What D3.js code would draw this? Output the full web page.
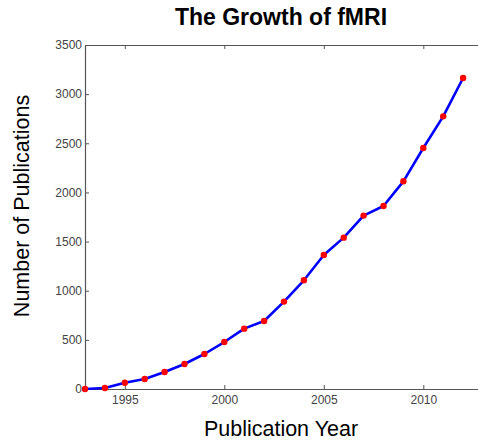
<!DOCTYPE html>
<html>
<head>
<meta charset="utf-8">
<script src="https://cdn.jsdelivr.net/npm/d3@7"></script>
<style>
  body { margin: 0; background: #fff; }
  svg { display: block; font-family: "Liberation Sans", Arial, Helvetica, sans-serif; }
  .axis path, .axis line { stroke: #555; }
  .axis text { fill: #444; font-size: 12px; }
</style>
</head>
<body>
<div id="chart"></div>
<script>
// publication counts per year
let years = [1993, 1994, 1995, 1996, 1997, 1998, 1999, 2000, 2001, 2002,
             2003, 2004, 2005, 2006, 2007, 2008, 2009, 2010, 2011, 2012];
let counts = [0, 10, 64, 102, 173, 254, 356, 478, 614, 692,
              889, 1106, 1363, 1540, 1764, 1862, 2113, 2452, 2774, 3164];
let xTicks = [1995, 2000, 2005, 2010];
let yTicks = [0, 500, 1000, 1500, 2000, 2500, 3000, 3500];

let W = 478, H = 442;
let margin = {top: 45, left: 85, bottom: 53};

let svg = d3.select("#chart").append("svg")
    .attr("width", W)
    .attr("height", H);

let x = d3.scaleLinear()
    .domain([1993, 2013.2])
    .range([margin.left, margin.left + 20.2 * 19.9]);

let y = d3.scaleLinear()
    .domain([0, 3500])
    .range([H - margin.bottom, margin.top]);

// bottom axis, ticks pointing inward
svg.append("g")
    .attr("class", "x-axis axis")
    .attr("transform", `translate(0, ${y(0)})`)
    .call(d3.axisBottom(x).tickValues(xTicks).tickFormat(d3.format("d"))
        .tickSizeInner(-4).tickSizeOuter(0).tickPadding(6));

// top border with ticks
svg.append("g")
    .attr("class", "axis")
    .attr("transform", `translate(0, ${y(3500)})`)
    .call(d3.axisTop(x).tickValues(xTicks).tickFormat("")
        .tickSizeInner(-4).tickSizeOuter(0));

// left axis
svg.append("g")
    .attr("class", "y-axis axis")
    .attr("transform", `translate(${x(1993)}, 0)`)
    .call(d3.axisLeft(y).tickValues(yTicks).tickFormat(d3.format("d"))
        .tickSizeInner(-4).tickSizeOuter(0).tickPadding(3));

svg.selectAll(".axis .domain").attr("stroke-width", 1.2);

let data = years.map((yr, i) => ({year: yr, value: counts[i]}));

let line = d3.line()
    .x(d => x(d.year))
    .y(d => y(d.value));

svg.append("path")
    .datum(data)
    .attr("fill", "none")
    .attr("stroke", "#0000ff")
    .attr("stroke-width", 2.6)
    .attr("stroke-linejoin", "round")
    .attr("d", line);

svg.selectAll(".dot")
    .data(data)
    .enter()
    .append("circle")
    .attr("class", "dot")
    .attr("cx", d => x(d.year))
    .attr("cy", d => y(d.value))
    .attr("r", 3.2)
    .attr("fill", "#ff0000");

// titles
svg.append("text")
    .attr("x", 281)
    .attr("y", 25)
    .attr("text-anchor", "middle")
    .attr("font-size", 23)
    .attr("font-weight", "bold")
    .text("The Growth of fMRI");

svg.append("text")
    .attr("x", 281)
    .attr("y", 436)
    .attr("text-anchor", "middle")
    .attr("font-size", 21.5)
    .text("Publication Year");

svg.append("text")
    .attr("transform", `translate(29, 206) rotate(-90)`)
    .attr("text-anchor", "middle")
    .attr("font-size", 21.5)
    .text("Number of Publications");
</script>
</body>
</html>
